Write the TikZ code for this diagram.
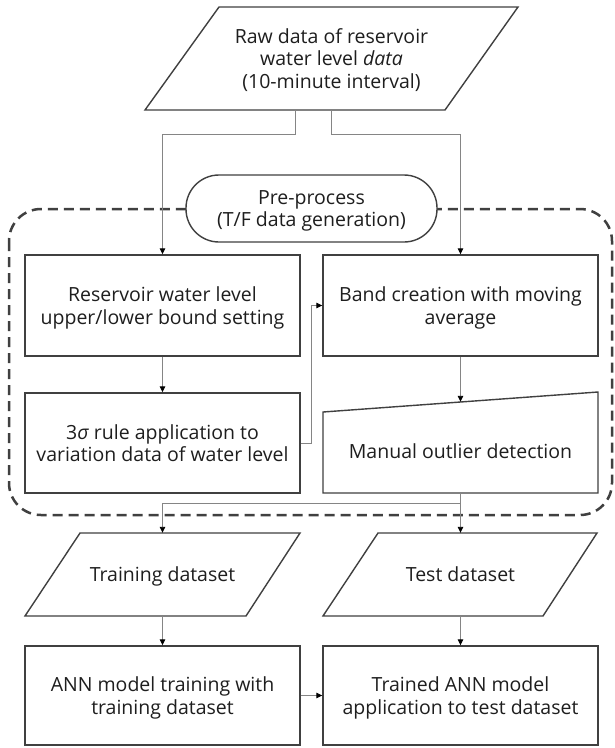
\documentclass[tikz,border=0pt]{standalone}
\usepackage{fontspec}
\setmainfont{Open Sans}
\usetikzlibrary{arrows.meta,calc}
\definecolor{bord}{HTML}{404040}
\definecolor{connc}{HTML}{858585}
\definecolor{txt}{HTML}{1E1E1E}
\begin{document}
\begin{tikzpicture}[x=1pt,y=-1pt,
  shapeline/.style={draw=bord,line width=1.4pt},
  lbl/.style={font=\fontsize{19.5}{22.5}\selectfont,text=txt,align=center,inner sep=0pt,text depth=0pt},
  box/.style={shapeline,lbl,minimum width=275pt,minimum height=101pt},
  conn/.style={draw=connc,line width=0.9pt,-{Triangle[length=6pt,width=5.5pt,color=black]}},
  grpline/.style={draw=bord,line width=2.5pt,dash pattern=on 10pt off 6pt,rounded corners=32pt}]
\fill[white] (0,0) rectangle (614,748);
\useasboundingbox (0,0) rectangle (614,748);

% group outline
\draw[grpline] (9,209) rectangle (612,515);

% raw data (parallelogram)
\draw[shapeline] (145,110) -- (219,7) -- (518,7) -- (445,110) -- cycle;
\node[lbl,minimum height=103pt] (raw) at (331.5,58.5) {Raw data of reservoir\\water level \textit{data}\\(10-minute interval)};

% pre-process terminal
\node[shapeline,lbl,fill=white,rounded corners=33pt,minimum width=251pt,minimum height=67pt] (pre) at (311.5,208.5) {Pre-process\\(T/F data generation)};

% process boxes
\node[box] (b1) at (162.5,305.5) {Reservoir water level\\upper/lower bound setting};
\node[box,minimum height=100pt] (b2) at (162.5,443) {3\textit{σ} rule application to\\variation data of water level};
\node[box] (band) at (460.5,305.5) {Band creation with moving\\average};

% manual input
\draw[shapeline] (323,412) -- (598,392) -- (598,493) -- (323,493) -- cycle;
\node[lbl,text height=21.5pt,minimum height=91pt] (man) at (460.5,447.5) {Manual outlier detection};

% datasets (parallelograms)
\draw[shapeline] (25,616) -- (80,533) -- (300,533) -- (246,616) -- cycle;
\node[lbl,minimum height=83pt] (train) at (162.5,574.5) {Training dataset};
\draw[shapeline] (323,616) -- (378,533) -- (597,533) -- (543,616) -- cycle;
\node[lbl,minimum height=83pt] (test) at (460.5,574.5) {Test dataset};

% model boxes
\node[box,minimum height=99pt] (ann) at (162.5,695.5) {ANN model training with\\training dataset};
\node[box,minimum height=99pt] (trained) at (460.5,695.5) {Trained ANN model\\application to test dataset};

% connectors
\draw[conn] ($(raw.south)+(-36.5,0)$) -- ++(0,24) -| (b1.north);
\draw[conn] (raw.south) -- ++(0,24) -| (band.north);
\draw[conn] (b1.south) -- (b2.north);
\draw[conn] (b2.east) -- ++(11,0) |- (band.west);
\draw[conn] (band.south) -- (man.north);
\draw[conn] (man.south) -- ++(0,10) -| (train.north);
\draw[conn] (man.south) -- (test.north);
\draw[conn] (train.south) -- (ann.north);
\draw[conn] (test.south) -- (trained.north);
\draw[conn] (ann.east) -- (trained.west);
\end{tikzpicture}
\end{document}
